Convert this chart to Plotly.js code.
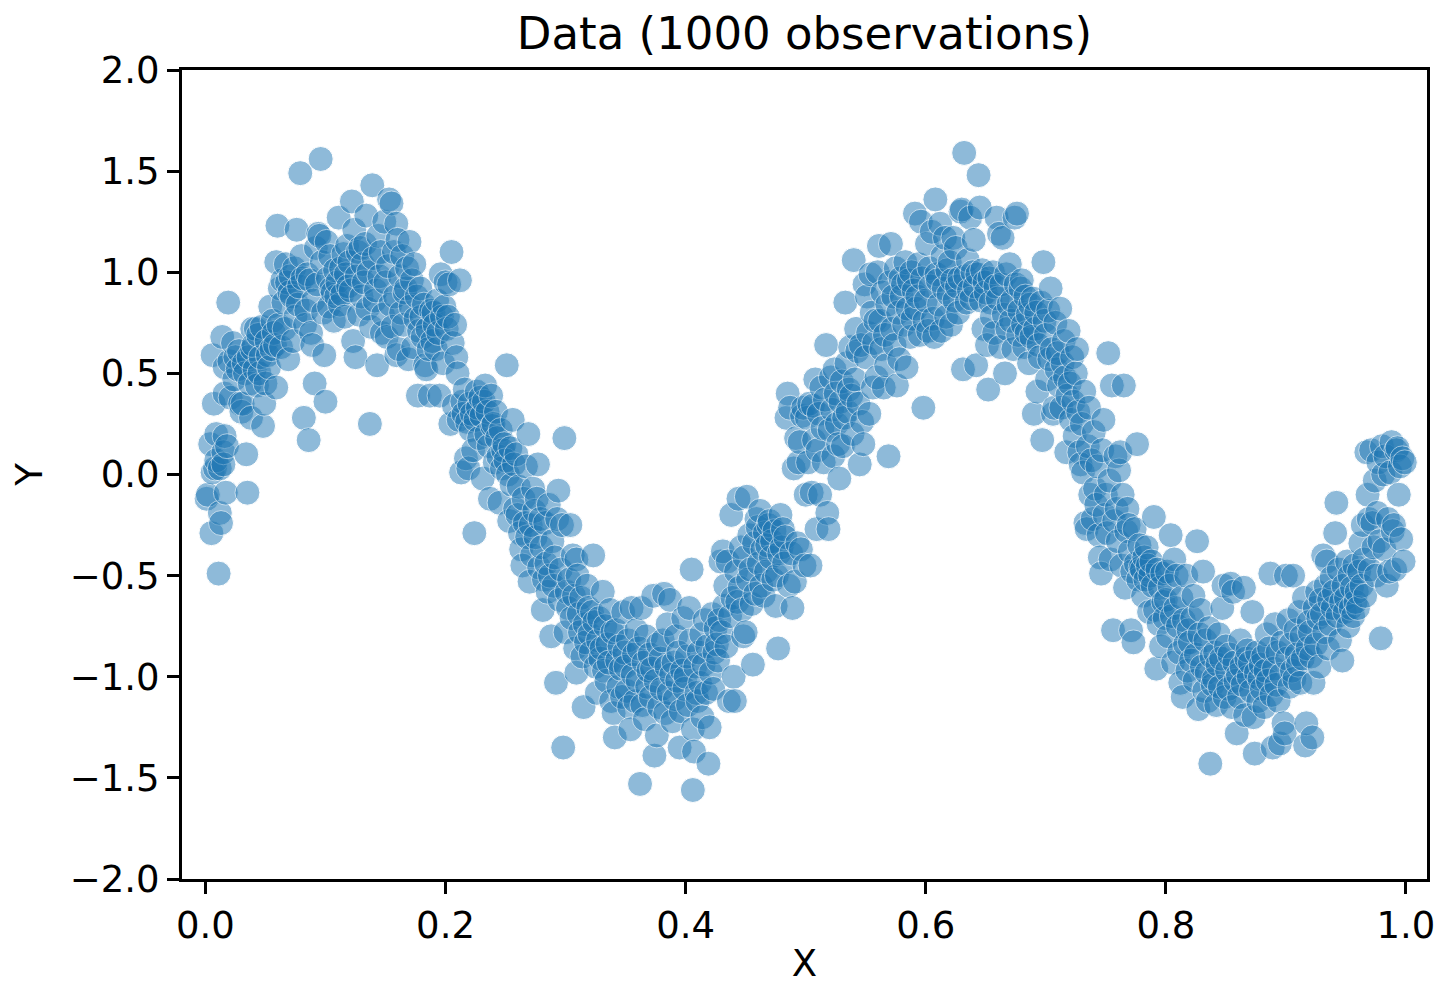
<!DOCTYPE html>
<html><head><meta charset="utf-8">
<script src="https://cdn.plot.ly/plotly-3.0.1.min.js"></script>
<style>html,body{margin:0;padding:0;background:#fff}#chart{width:1436px;height:985px}</style>
</head><body><div id="chart"></div>
<script>
const chartTitle = "Data (1000 observations)";
const xAxisTitle = "X";
const yAxisTitle = "Y";
const xTickVals = [0, 0.2, 0.4, 0.6, 0.8, 1.0];
const xTickText = ["0.0", "0.2", "0.4", "0.6", "0.8", "1.0"];
const yTickVals = [-2, -1.5, -1, -0.5, 0, 0.5, 1, 1.5, 2];
const yTickText = ["\u22122.0", "\u22121.5", "\u22121.0", "\u22120.5", "0.0", "0.5", "1.0", "1.5", "2.0"];

// x in [0.00, 0.25)
const xA = [
0.001,0.002,0.004,0.005,0.006,0.006,0.007,0.008,0.009,0.009,
0.011,0.012,0.012,0.013,0.014,0.015,0.015,0.016,0.016,0.016,0.017,0.018,0.019,
0.020,0.021,0.023,0.024,0.025,0.027,0.028,0.029,0.030,
0.031,0.032,0.033,0.034,0.035,0.036,0.037,0.038,0.039,0.039,
0.040,0.041,0.042,0.043,0.044,0.045,0.046,0.047,0.048,0.049,
0.050,0.051,0.052,0.053,0.054,0.055,0.056,0.057,0.058,0.059,0.059,
0.060,0.061,0.062,0.063,0.064,0.065,0.066,0.067,0.068,0.069,
0.070,0.071,0.072,0.073,0.074,0.075,0.076,0.077,0.078,0.079,
0.080,0.081,0.082,0.083,0.084,0.085,0.086,0.087,0.088,0.089,
0.090,0.091,0.092,0.093,0.094,0.095,0.096,0.097,0.098,0.099,
0.100,0.101,0.102,0.103,0.104,0.105,0.106,0.107,0.108,0.109,
0.110,0.111,0.112,0.113,0.114,0.115,0.116,0.117,0.118,0.119,
0.120,0.121,0.122,0.123,0.124,0.125,0.126,0.127,0.128,0.129,
0.130,0.131,0.132,0.133,0.134,0.135,0.136,0.137,0.138,0.139,
0.140,0.141,0.142,0.143,0.144,0.145,0.146,0.147,0.148,0.149,
0.150,0.151,0.152,0.153,0.154,0.155,0.156,0.157,0.158,0.159,0.159,
0.160,0.161,0.162,0.163,0.164,0.165,0.166,0.167,0.168,0.169,
0.170,0.171,0.172,0.173,0.174,0.175,0.176,0.177,0.178,0.179,
0.180,0.181,0.182,0.183,0.184,0.185,0.186,0.187,0.188,0.189,
0.190,0.191,0.192,0.193,0.194,0.195,0.196,0.197,0.198,0.199,
0.200,0.201,0.202,0.203,0.204,0.205,0.206,0.207,0.208,0.209,
0.210,0.211,0.212,0.213,0.214,0.215,0.216,0.217,0.218,0.219,
0.220,0.221,0.222,0.223,0.224,0.225,0.226,0.227,0.228,0.229,
0.230,0.231,0.232,0.233,0.234,0.235,0.236,0.237,0.238,0.239,
0.240,0.241,0.242,0.243,0.244,0.245,0.246,0.247,0.248,0.249
];
const yA = [
-0.12,-0.10,0.15,-0.29,0.59,0.01,0.35,0.03,0.07,0.20,
-0.49,-0.19,0.03,-0.24,0.68,0.11,0.05,0.53,0.40,0.19,-0.09,0.14,0.85,
0.56,0.38,0.65,0.47,0.58,0.52,0.61,0.35,0.31,
0.35,0.55,0.50,0.10,-0.09,0.58,0.45,0.28,0.72,0.62,
0.64,0.52,0.72,0.44,0.69,0.50,0.58,0.73,0.24,0.35,
0.45,0.66,0.59,0.53,0.83,0.62,0.76,0.70,0.64,1.05,0.43,
1.23,0.74,0.92,0.63,0.96,0.85,0.72,1.04,0.95,0.57,
0.90,0.98,0.88,0.66,1.02,0.78,1.21,0.84,0.93,1.49,
1.08,0.97,0.28,0.74,0.81,0.99,0.17,0.96,0.70,0.64,
0.86,0.45,1.12,0.94,1.19,1.18,1.56,1.05,0.80,0.59,
0.36,1.15,0.97,0.83,1.08,0.92,0.90,0.76,1.01,0.88,
0.95,1.27,0.84,1.02,0.89,1.09,0.78,0.99,1.13,0.93,
1.05,0.91,1.35,0.66,1.21,0.58,0.98,1.10,0.79,1.12,
0.88,1.04,0.95,1.14,1.28,0.82,1.00,0.25,0.73,1.43,
1.07,0.86,0.91,0.54,1.18,0.98,1.10,0.70,0.79,1.25,
0.95,0.68,1.03,1.36,0.84,1.34,0.73,1.10,0.88,0.59,1.24,
1.16,0.62,0.98,0.80,1.08,0.74,0.90,0.92,1.02,0.57,
1.15,0.83,0.96,0.63,1.04,0.77,0.88,0.39,0.71,0.92,
0.78,0.68,0.84,0.54,0.52,0.72,0.62,0.39,0.81,0.66,
0.80,0.74,0.62,0.86,0.70,0.39,0.99,0.78,0.55,0.83,
0.95,0.72,0.78,0.94,0.25,1.10,0.65,0.34,0.74,0.58,
0.50,0.27,0.96,0.01,0.36,0.30,0.42,0.08,0.26,0.03,
0.35,0.22,0.30,0.12,-0.29,0.27,0.41,0.33,0.18,0.38,
0.29,-0.02,0.36,0.44,0.20,0.31,0.14,-0.12,0.39,0.24,
0.25,0.06,0.31,0.18,0.09,-0.14,0.22,0.03,0.12,0.15
];

// x in [0.25, 0.50)
const xB = [
0.250,0.251,0.252,0.253,0.254,0.255,0.256,0.257,0.258,0.259,
0.260,0.261,0.262,0.263,0.264,0.265,0.266,0.267,0.268,0.269,
0.270,0.271,0.272,0.273,0.274,0.275,0.276,0.277,0.278,0.279,
0.280,0.281,0.282,0.283,0.284,0.285,0.286,0.287,0.288,0.289,
0.290,0.291,0.292,0.293,0.294,0.295,0.296,0.297,0.298,0.299,
0.300,0.301,0.302,0.303,0.304,0.305,0.306,0.307,0.308,0.309,0.309,
0.310,0.311,0.312,0.313,0.314,0.315,0.316,0.317,0.318,0.319,
0.320,0.321,0.322,0.323,0.324,0.325,0.326,0.327,0.328,0.329,
0.330,0.331,0.332,0.333,0.334,0.335,0.336,0.337,0.338,0.339,
0.340,0.341,0.342,0.343,0.344,0.345,0.346,0.347,0.348,0.349,
0.350,0.351,0.352,0.353,0.354,0.355,0.356,0.357,0.358,0.359,
0.360,0.361,0.362,0.363,0.364,0.365,0.366,0.367,0.368,0.369,
0.370,0.371,0.372,0.373,0.374,0.375,0.376,0.377,0.378,0.379,
0.380,0.381,0.382,0.383,0.384,0.385,0.386,0.387,0.388,0.389,
0.390,0.391,0.392,0.393,0.394,0.395,0.396,0.397,0.398,0.399,
0.400,0.401,0.402,0.403,0.404,0.405,0.406,0.406,0.407,0.408,0.409,
0.410,0.411,0.412,0.413,0.414,0.415,0.416,0.417,0.418,0.419,
0.420,0.421,0.422,0.423,0.424,0.425,0.426,0.427,0.428,0.429,
0.430,0.431,0.432,0.433,0.434,0.435,0.436,0.437,0.438,0.439,
0.440,0.441,0.442,0.443,0.444,0.445,0.446,0.447,0.448,0.449,
0.450,0.451,0.452,0.453,0.454,0.455,0.456,0.457,0.458,0.459,
0.460,0.461,0.462,0.463,0.464,0.465,0.466,0.467,0.468,0.469,
0.470,0.471,0.472,0.473,0.474,0.475,0.476,0.477,0.478,0.479,
0.480,0.481,0.482,0.483,0.484,0.485,0.486,0.487,0.488,0.489,
0.490,0.491,0.492,0.493,0.494,0.495,0.496,0.497,0.498,0.499
];
const yB = [
0.07,0.54,0.00,-0.23,0.13,-0.05,0.27,0.05,-0.17,0.10,
-0.20,-0.06,-0.29,-0.37,-0.45,-0.12,-0.24,0.04,-0.31,0.20,
-0.53,-0.25,-0.40,-0.07,-0.18,-0.31,-0.12,0.05,-0.46,-0.22,
-0.36,-0.67,-0.52,-0.24,-0.44,-0.58,-0.15,-0.50,-0.80,-0.33,
-0.55,-0.41,-1.03,-0.22,-0.08,-0.62,-0.47,-0.25,-1.35,0.18,
-0.78,-0.58,-0.66,-0.52,-0.25,-0.71,-0.40,-0.60,-0.86,-0.98,-0.42,
-0.50,-0.69,-0.78,-0.61,-0.90,-1.15,-0.74,-0.83,-0.55,-0.66,
-0.79,-0.88,-0.68,-0.40,-0.73,-0.95,-1.08,-0.82,-0.71,-0.91,
-0.86,-0.58,-0.97,-0.75,-1.02,-0.84,-0.93,-0.67,-1.12,-0.78,
-1.18,-1.30,-0.77,-0.92,-1.05,-0.85,-0.96,-1.10,-0.68,-0.88,
-0.95,-1.07,-0.82,-1.15,-1.26,-0.66,-0.99,-0.89,-1.12,-0.77,
-1.02,-0.86,-1.53,-0.66,-1.14,-0.93,-1.21,-0.80,-1.05,-0.97,
-0.89,-1.10,-0.96,-0.60,-1.39,-1.02,-1.29,-0.84,-1.15,-0.91,
-1.06,-0.82,-0.59,-1.18,-0.95,-0.74,-1.08,-0.62,-0.99,-1.22,
-0.93,-1.11,-0.80,-1.02,-0.88,-1.35,-1.17,-0.97,-0.71,-1.06,
-1.00,-0.90,-1.14,-0.66,-0.82,-0.47,-1.56,-1.26,-1.37,-0.95,-1.08,
-1.12,-0.88,-1.03,-0.79,-1.20,-0.94,-0.72,-1.08,-0.85,-1.43,
-1.25,-0.98,-0.69,-1.06,-0.88,-0.76,-0.84,-0.92,-0.72,-0.43,
-0.78,-0.38,-0.65,-0.55,-0.85,-0.43,-1.12,-0.70,-0.20,-0.61,
-1.00,-1.12,-0.48,-0.63,-0.12,-0.56,-0.36,-0.67,-0.80,-0.41,
-0.78,-0.11,-0.52,-0.30,-0.47,-0.64,-0.94,-0.34,-0.59,-0.22,
-0.26,-0.44,-0.18,-0.55,-0.37,-0.60,-0.29,-0.48,-0.35,-0.25,
-0.23,-0.41,-0.33,-0.52,-0.28,-0.65,-0.50,-0.86,-0.39,-0.20,
-0.36,-0.27,-0.44,-0.31,0.28,0.40,-0.55,0.33,-0.39,-0.66,
0.03,-0.53,0.18,-0.34,0.06,0.16,-0.37,0.29,0.33,-0.45
];

// x in [0.50, 0.75)
const xC = [
0.500,0.501,0.502,0.503,0.504,0.505,0.506,0.507,0.508,0.509,
0.510,0.511,0.512,0.513,0.514,0.515,0.516,0.517,0.518,0.519,
0.520,0.521,0.522,0.523,0.524,0.525,0.526,0.527,0.528,0.529,
0.530,0.531,0.532,0.533,0.534,0.535,0.536,0.537,0.538,0.539,
0.540,0.541,0.542,0.543,0.544,0.545,0.546,0.547,0.548,0.549,
0.550,0.551,0.552,0.553,0.554,0.555,0.556,0.557,0.558,0.559,
0.560,0.561,0.562,0.563,0.564,0.565,0.566,0.567,0.568,0.569,
0.570,0.571,0.572,0.573,0.574,0.575,0.576,0.577,0.578,0.579,
0.580,0.581,0.582,0.583,0.584,0.585,0.586,0.587,0.588,0.589,
0.590,0.591,0.592,0.593,0.594,0.595,0.596,0.597,0.598,0.599,
0.600,0.601,0.602,0.603,0.604,0.605,0.606,0.607,0.608,0.609,
0.610,0.611,0.612,0.613,0.614,0.615,0.616,0.617,0.618,0.619,
0.620,0.621,0.622,0.623,0.624,0.625,0.626,0.627,0.628,0.629,
0.630,0.631,0.632,0.633,0.634,0.635,0.636,0.637,0.638,0.639,
0.640,0.641,0.642,0.643,0.644,0.645,0.646,0.647,0.648,0.649,
0.650,0.651,0.652,0.653,0.654,0.655,0.656,0.657,0.658,0.659,
0.660,0.661,0.662,0.663,0.664,0.665,0.666,0.667,0.668,0.669,
0.670,0.671,0.672,0.673,0.674,0.675,0.676,0.677,0.678,0.679,
0.680,0.681,0.682,0.683,0.684,0.685,0.686,0.687,0.688,0.689,
0.690,0.691,0.692,0.693,0.694,0.695,0.696,0.697,0.698,0.699,
0.700,0.701,0.702,0.703,0.704,0.705,0.706,0.707,0.708,0.709,
0.710,0.711,0.712,0.713,0.714,0.715,0.716,0.717,0.718,0.719,
0.720,0.721,0.722,0.723,0.724,0.725,0.726,0.727,0.728,0.729,
0.730,0.731,0.732,0.733,0.734,0.735,0.736,0.737,0.738,0.739,
0.740,0.741,0.742,0.743,0.744,0.745,0.746,0.747,0.748,0.749
];
const yC = [
-0.10,0.28,0.06,0.35,-0.45,-0.09,0.34,0.17,0.47,-0.27,
0.12,0.30,-0.10,0.43,0.23,0.06,0.37,0.64,-0.19,-0.27,
0.22,0.48,0.32,0.09,0.52,0.40,0.25,0.15,-0.02,0.36,
0.46,0.14,0.28,0.85,0.55,0.31,0.42,0.63,0.39,0.20,
1.06,0.47,0.72,0.61,0.35,0.05,0.64,0.26,0.15,0.94,
0.58,0.88,0.70,0.30,0.99,0.80,0.43,0.65,0.76,0.48,
1.00,1.13,0.76,0.62,0.90,0.43,0.69,0.54,0.84,0.09,
0.95,1.14,0.72,0.88,0.64,1.02,0.44,0.80,0.57,0.97,
0.88,0.94,0.74,1.05,0.53,0.82,0.96,0.68,1.00,0.77,
0.91,1.29,0.82,0.88,1.04,0.69,1.25,0.97,0.33,0.76,
0.86,1.14,0.71,1.02,0.93,1.20,0.77,0.68,1.36,0.99,
0.96,0.84,1.24,0.71,1.08,0.92,1.17,0.78,1.01,0.89,
1.05,0.74,0.96,1.17,0.86,1.12,0.93,0.80,0.97,1.30,
1.31,0.52,1.59,0.98,0.85,1.06,0.91,1.27,0.87,1.00,
1.16,0.93,0.54,0.99,1.48,1.32,0.86,1.01,0.72,0.95,
0.90,0.64,0.42,0.97,0.85,0.78,1.00,0.70,0.93,1.27,
0.87,1.19,0.63,0.94,1.17,0.79,0.50,0.99,0.72,0.84,
1.04,0.76,0.86,0.62,1.27,0.94,1.29,0.69,0.81,0.92,
0.96,0.74,0.63,0.88,0.70,0.79,0.55,0.84,0.68,0.87,
0.30,0.72,0.80,0.41,0.64,0.58,0.85,0.17,1.05,0.76,
0.69,0.47,0.81,0.57,0.92,0.62,0.30,0.33,0.75,0.52,
0.60,0.44,0.82,0.33,0.55,0.66,0.48,0.11,0.39,0.71,
0.45,0.27,0.58,0.36,0.19,0.50,0.62,0.31,0.11,0.05,
0.25,0.01,0.41,-0.24,-0.27,0.14,0.33,-0.10,0.07,-0.22,
0.21,-0.07,-0.15,0.04,-0.30,-0.41,-0.49,0.12,0.27,-0.20
];

// x in [0.75, 1.00]
const xD = [
0.750,0.751,0.752,0.753,0.754,0.755,0.756,0.757,0.758,0.759,
0.760,0.761,0.762,0.763,0.764,0.765,0.766,0.767,0.768,0.769,
0.770,0.771,0.772,0.773,0.774,0.775,0.776,0.777,0.778,0.779,
0.780,0.781,0.782,0.783,0.784,0.785,0.786,0.787,0.788,0.789,
0.790,0.791,0.792,0.793,0.794,0.795,0.796,0.797,0.798,0.799,
0.800,0.801,0.802,0.803,0.804,0.805,0.806,0.807,0.808,0.809,
0.810,0.811,0.812,0.813,0.814,0.815,0.816,0.817,0.818,0.819,
0.820,0.821,0.822,0.823,0.824,0.825,0.826,0.827,0.828,0.829,
0.830,0.831,0.832,0.833,0.834,0.835,0.836,0.837,0.838,0.839,
0.840,0.841,0.842,0.843,0.844,0.845,0.846,0.847,0.848,0.849,
0.850,0.851,0.852,0.853,0.854,0.855,0.856,0.857,0.858,0.859,
0.860,0.861,0.862,0.863,0.864,0.865,0.866,0.867,0.868,0.869,
0.870,0.871,0.872,0.873,0.874,0.875,0.876,0.877,0.878,0.879,
0.880,0.881,0.882,0.883,0.884,0.885,0.886,0.887,0.888,0.889,
0.890,0.891,0.892,0.893,0.894,0.895,0.896,0.897,0.898,0.899,
0.900,0.901,0.902,0.903,0.904,0.905,0.906,0.907,0.908,0.909,
0.910,0.911,0.912,0.913,0.914,0.915,0.916,0.917,0.918,0.919,
0.920,0.921,0.922,0.923,0.924,0.925,0.926,0.927,0.928,0.929,
0.930,0.931,0.932,0.933,0.934,0.935,0.936,0.937,0.938,0.939,
0.940,0.941,0.942,0.943,0.944,0.945,0.946,0.947,0.948,0.949,
0.950,0.951,0.952,0.953,0.954,0.955,0.956,0.957,0.958,0.959,
0.960,0.961,0.962,0.963,0.964,0.965,0.966,0.967,0.968,0.969,
0.970,0.971,0.972,0.973,0.974,0.975,0.976,0.977,0.978,0.979,
0.980,0.981,0.982,0.983,0.984,0.985,0.986,0.987,0.988,0.989,
0.990,0.991,0.992,0.993,0.994,0.995,0.996,0.997,0.998,0.999
];
const yD = [
-0.10,-0.29,0.60,-0.03,-0.42,0.44,-0.77,-0.23,0.09,-0.17,
-0.33,0.02,0.11,-0.45,-0.10,0.44,-0.56,-0.28,-0.17,-0.25,
-0.38,-0.77,-0.48,-0.83,-0.27,-0.44,0.15,-0.52,-0.35,-0.46,
-0.47,-0.60,-0.41,-0.52,-0.36,-0.45,-0.68,-0.50,-0.43,-0.55,
-0.21,-0.67,-0.96,-0.47,-0.74,-0.56,-0.85,-0.49,-0.63,-0.71,
-0.62,-0.48,-0.80,-0.55,-0.30,-0.70,-0.93,-0.42,-0.66,-0.50,
-0.75,-0.88,-1.03,-0.61,-1.10,-0.72,-0.84,-0.50,-0.97,-0.77,
-0.83,-0.92,-0.71,-0.60,-1.02,-0.89,-0.33,-1.16,-0.79,-0.67,
-0.95,-0.48,-1.07,-0.82,-0.98,-1.12,-0.76,-1.43,-0.90,-1.04,
-1.01,-0.88,-1.14,-0.94,-0.79,-1.05,-0.91,-0.66,-0.55,-1.10,
-0.85,-0.97,-1.06,-0.89,-0.54,-1.15,-0.58,-0.93,-1.02,-1.28,
-0.99,-1.10,-0.82,-0.95,-1.04,-0.56,-1.19,-0.91,-0.87,-1.00,
-0.93,-1.07,-0.68,-1.20,-1.38,-0.98,-0.88,-1.12,-1.01,-0.94,
-1.06,-0.90,-1.15,-0.97,-0.79,-1.02,-0.86,-0.49,-1.09,-1.35,
-0.96,-0.74,-1.04,-0.88,-1.12,-1.33,-0.99,-0.83,-1.23,-1.28,
-0.50,-0.91,-0.72,-1.05,-0.84,-0.97,-0.50,-1.01,-0.77,-0.89,
-0.94,-0.68,-1.03,-0.80,-0.91,-0.61,-1.34,-1.23,-0.86,-0.73,
-0.78,-0.90,-1.30,-1.03,-0.66,-0.84,-0.58,-0.71,-0.95,-0.62,
-0.69,-0.40,-0.78,-0.55,-0.43,-0.86,-0.62,-0.74,-0.51,-0.66,
-0.58,-0.29,-0.14,-0.70,-0.47,-0.82,-0.63,-0.92,-0.55,-0.68,
-0.61,-0.43,-0.75,-0.50,-0.66,-0.56,-0.70,-0.45,-0.63,-0.58,
-0.66,-0.48,-0.34,-0.55,-0.25,-0.42,-0.60,0.11,-0.10,-0.22,
-0.47,0.12,-0.24,-0.36,-0.03,-0.50,-0.19,0.06,-0.33,-0.81,
0.14,0.00,-0.37,0.09,-0.55,-0.22,-0.48,0.01,0.16,-0.28,
-0.25,-0.47,0.12,0.13,-0.10,0.04,-0.32,0.08,-0.43,0.06
];

const obsX = [].concat(xA, xB, xC, xD);
const obsY = [].concat(yA, yB, yC, yD);

const trace = {
  type: 'scatter',
  mode: 'markers',
  x: obsX,
  y: obsY,
  marker: {size: 25, color: '#1f77b4', opacity: 0.5, line: {color: '#ffffff', width: 1}},
  hoverinfo: 'skip'
};

const axisCommon = {
  ticks: 'outside', ticklen: 12, tickwidth: 3, tickcolor: '#000',
  showline: true, linewidth: 3, linecolor: '#000', mirror: true,
  showgrid: false, zeroline: false,
  tickfont: {family: 'DejaVu Sans', size: 37, color: '#000'},
  tickmode: 'array'
};

const layout = {
  width: 1436, height: 985,
  margin: {l: 182, r: 9, t: 70, b: 106, pad: 0},
  paper_bgcolor: '#fff', plot_bgcolor: '#fff',
  font: {family: 'DejaVu Sans', color: '#000', size: 37},
  showlegend: false,
  title: {text: chartTitle, font: {family: 'DejaVu Sans', size: 45, color: '#000'},
          x: 0.5, xref: 'paper', xanchor: 'center', y: 1 - 33/985, yref: 'container', yanchor: 'middle'},
  xaxis: Object.assign({}, axisCommon, {
    range: [-0.0195, 1.0175], tickvals: xTickVals, ticktext: xTickText,
    title: {text: xAxisTitle, font: {family: 'DejaVu Sans', size: 37, color: '#000'}, standoff: 16}
  }),
  yaxis: Object.assign({}, axisCommon, {
    range: [-2, 2], tickvals: yTickVals, ticktext: yTickText,
    title: {text: yAxisTitle, font: {family: 'DejaVu Sans', size: 37, color: '#000'}, standoff: 16}
  })
};

Plotly.newPlot('chart', [trace], layout, {staticPlot: true, displayModeBar: false});
</script>
</body></html>
